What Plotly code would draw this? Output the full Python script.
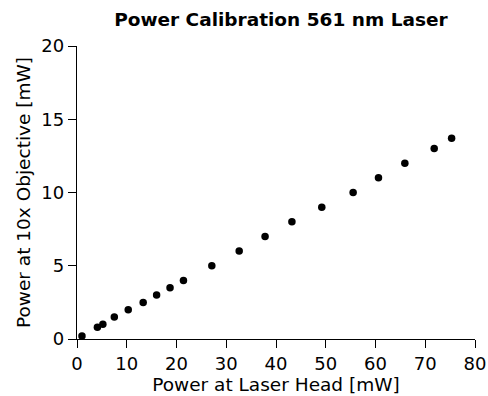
import plotly.graph_objects as go

head_power = [1.0, 4.1, 5.2, 7.5, 10.3, 13.3, 16.0, 18.7, 21.4, 27.1, 32.6, 37.8, 43.2, 49.2, 55.5, 60.6, 65.9, 71.8, 75.3]
objective_power = [0.2, 0.8, 1.0, 1.5, 2.0, 2.5, 3.0, 3.5, 4.0, 5.0, 6.0, 7.0, 8.0, 9.0, 10.0, 11.0, 12.0, 13.0, 13.7]
x_ticks = [0, 10, 20, 30, 40, 50, 60, 70, 80]
y_ticks = [0, 5, 10, 15, 20]

fig = go.Figure(go.Scatter(
    x=head_power, y=objective_power, mode="markers",
    marker=dict(color="black", size=7.5), cliponaxis=False, showlegend=False))

fig.update_layout(
    width=488, height=396,
    margin=dict(l=77, r=13, t=46, b=57),
    paper_bgcolor="white", plot_bgcolor="white",
    font=dict(family="DejaVu Sans", size=18, color="black"),
    title=dict(text="<b>Power Calibration 561 nm Laser</b>", x=(77 + 475) / 2 / 488 + 0.01, xanchor="center",
               y=1 - 20 / 396, yanchor="middle", font=dict(size=18.5)),
)
axis_common = dict(showgrid=False, zeroline=False, showline=True, linecolor="black", linewidth=1.3,
                   ticks="outside", ticklen=8, tickwidth=1.3, tickcolor="black", automargin=False,
                   tickfont=dict(size=18), title_font=dict(size=18.5))
fig.update_xaxes(range=[0, 80], tickvals=x_ticks, title_text="Power at Laser Head [mW]",
                 title_standoff=3, **axis_common)
fig.update_yaxes(range=[0, 20], tickvals=y_ticks, title_text="Power at 10x Objective [mW]",
                 title_standoff=5, **axis_common)

fig.write_html("out.html")
